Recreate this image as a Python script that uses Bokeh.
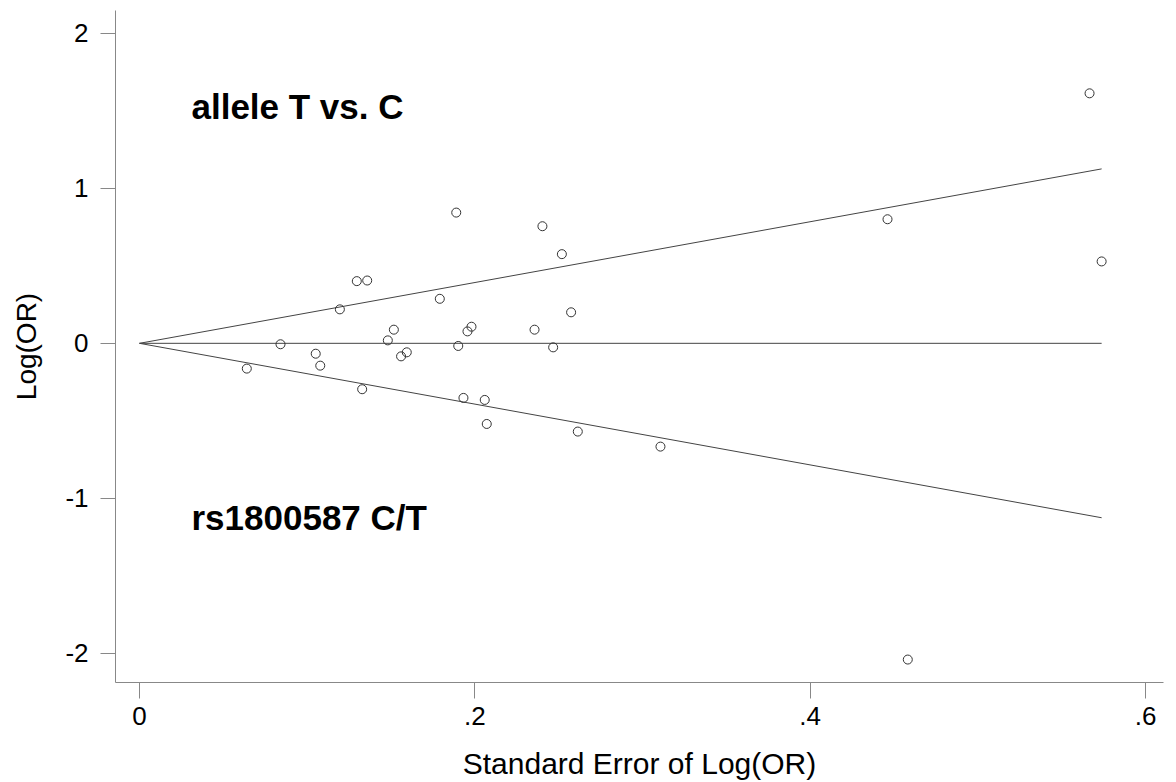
from bokeh.plotting import figure
from bokeh.models import Range1d, FixedTicker, Label, ColumnDataSource
from bokeh.embed import file_html
from bokeh.resources import INLINE

# Standard error of log(OR) and log(OR) for each study
se = [0.1889, 0.2403, 0.1296, 0.1358, 0.1195, 0.1791, 0.1517, 0.1481, 0.1980, 0.1956,
      0.2356, 0.0841, 0.1901, 0.1051, 0.1078, 0.0640, 0.1594, 0.1560, 0.1328, 0.1932,
      0.2059, 0.2071, 0.2519, 0.2574, 0.2467, 0.2614, 0.3107, 0.5666, 0.4461, 0.5738,
      0.4582]
log_or = [0.843, 0.755, 0.401, 0.405, 0.219, 0.287, 0.088, 0.019, 0.107, 0.077,
          0.088, -0.006, -0.017, -0.067, -0.144, -0.163, -0.058, -0.084, -0.296, -0.352,
          -0.365, -0.520, 0.575, 0.200, -0.026, -0.569, -0.666, 1.612, 0.800, 0.528,
          -2.039]

x_ticks = [0, 0.2, 0.4, 0.6]
x_tick_labels = {0: "0", 0.2: ".2", 0.4: ".4", 0.6: ".6"}
y_ticks = [-2, -1, 0, 1, 2]
y_tick_labels = {-2: "-2", -1: "-1", 0: "0", 1: "1", 2: "2"}

pooled = 0.0
z = 1.96
se_max = max(se)
line_x = [0.0, se_max]
upper = [pooled, pooled + z * se_max]
lower = [pooled, pooled - z * se_max]
center = [pooled, pooled]

FONT = "Liberation Sans"

p = figure(width=1176, height=782, output_backend="svg", toolbar_location=None,
           x_range=Range1d(-0.01431, 0.6107), y_range=Range1d(-2.187, 2.146),
           min_border_left=115, min_border_right=13, min_border_top=10, min_border_bottom=99)
p.outline_line_color = None
p.xgrid.visible = False
p.ygrid.visible = False
p.background_fill_color = "white"
p.border_fill_color = "white"

line_col = "#444444"
p.line(line_x, upper, line_color=line_col, line_width=1)
p.line(line_x, lower, line_color=line_col, line_width=1)
p.line(line_x, center, line_color=line_col, line_width=1)

src = ColumnDataSource(dict(x=se, y=log_or))
p.scatter("x", "y", source=src, marker="circle", size=9, fill_color=None,
          line_color="#333333", line_width=1)

axis_col = "#888888"
for ax in (p.xaxis[0], p.yaxis[0]):
    ax.axis_line_color = axis_col
    ax.major_tick_line_color = axis_col
    ax.minor_tick_line_color = None
    ax.major_tick_in = 0
    ax.major_label_text_font = FONT
    ax.major_label_text_color = "black"
    ax.axis_label_text_font = FONT
    ax.axis_label_text_font_style = "normal"
    ax.axis_label_text_color = "black"

p.xaxis.ticker = FixedTicker(ticks=x_ticks)
p.xaxis.major_label_overrides = x_tick_labels
p.xaxis.major_tick_out = 16
p.xaxis.major_label_standoff = 8
p.xaxis.major_label_text_font_size = "26px"
p.xaxis.axis_label = "Standard Error of Log(OR)"
p.xaxis.axis_label_text_font_size = "30px"
p.xaxis.axis_label_standoff = 19

p.yaxis.ticker = FixedTicker(ticks=y_ticks)
p.yaxis.major_label_overrides = y_tick_labels
p.yaxis.major_tick_out = 15
p.yaxis.major_label_standoff = 12
p.yaxis.major_label_text_font_size = "26px"
p.yaxis.axis_label = "Log(OR)"
p.yaxis.axis_label_text_font_size = "28px"
p.yaxis.axis_label_standoff = 20

p.add_layout(Label(x=0.031, y=1.528, text="allele T vs. C", text_font=FONT,
                   text_font_style="bold", text_font_size="35px", text_color="black",
                   text_baseline="alphabetic"))
p.add_layout(Label(x=0.031, y=-1.125, text="rs1800587 C/T", text_font=FONT,
                   text_font_style="bold", text_font_size="35px", text_color="black",
                   text_baseline="alphabetic"))

open("out.html", "w").write(file_html(p, INLINE))
